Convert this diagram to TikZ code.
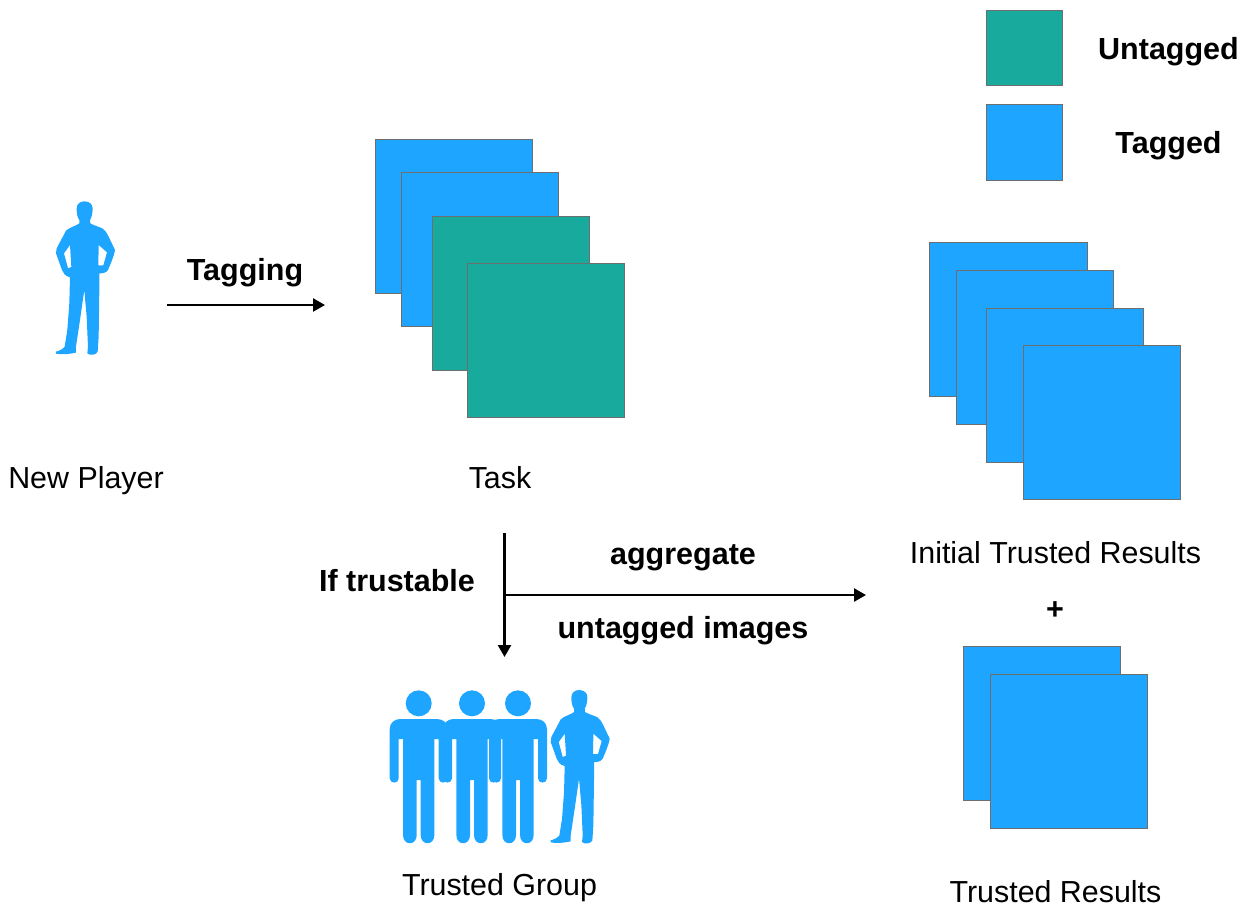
\documentclass[tikz,border=0pt]{standalone}
\usepackage{fontspec}
\setmainfont{Liberation Sans}
\usetikzlibrary{arrows.meta}
\definecolor{tagblue}{HTML}{1EA5FF}
\definecolor{teal}{HTML}{18AA9C}
\definecolor{edgegray}{HTML}{6E6E6E}
\tikzset{
  card/.style={draw=edgegray,line width=0.6pt,anchor=north west,inner sep=0pt,outer sep=0pt},
  lbl/.style={font=\fontsize{30.4}{36}\selectfont,inner sep=0pt,text=black,anchor=base},
  blbl/.style={font=\fontsize{30.5}{36}\selectfont\bfseries,inner sep=0pt,text=black,anchor=base},
  flow/.style={line width=2.4pt,-{Triangle[length=12pt,width=13pt]}},
}
\newcommand{\card}[6]{% name, colour, x1,y1,x2,y2
  \pgfmathsetmacro{\cw}{#5-#3-0.8}\pgfmathsetmacro{\ch}{#6-#4-0.2}
  \node[card,fill=#2,minimum width=\cw pt,minimum height=\ch pt] (#1) at (#3,#4) {};}
% silhouette in local units (1 unit = 1/3 px), origin at crop corner
\newcommand{\silhouette}[2]{%
  \begin{scope}[shift={(#1,#2)},x=0.3333pt,y=-0.3333pt]
  \fill[tagblue,even odd rule]
    (163,34) .. controls (178,34) and (188,42) .. (188,56)
    .. controls (188,72) and (184,84) .. (180,90)
    -- (181,100) .. controls (192,106) and (205,110) .. (217,115)
    .. controls (225,120) and (230,128) .. (236,140)
    -- (255,180) .. controls (252,200) and (240,225) .. (234,240)
    .. controls (228,250) and (215,250) .. (208,250)
    -- (208,300) -- (206,440) -- (203,485)
    .. controls (200,495) and (178,498) .. (172,490)
    -- (174,470) -- (170,380) -- (163,300)
    -- (150,390) -- (138,470) -- (138,488)
    .. controls (120,492) and (95,495) .. (78,491)
    -- (78,485) .. controls (90,482) and (100,476) .. (104,470)
    -- (112,420) -- (118,340) -- (120,262)
    .. controls (105,258) and (100,250) .. (96,240)
    -- (78,190) -- (80,175) -- (108,122)
    .. controls (118,112) and (138,108) .. (148,100)
    -- (148,90) .. controls (142,82) and (140,70) .. (140,56)
    .. controls (140,42) and (150,34) .. (163,34) -- cycle
    (120,165) -- (102,190) -- (114,235) -- (124,231) -- cycle
    (206,165) -- (231,187) -- (220,226) -- (205,226) -- cycle;
  \end{scope}}
% stick man: local units 1/3 px, origin at centre x, crop y
\newcommand{\stickman}[1]{%
  \begin{scope}[shift={(#1,680)},x=0.3333pt,y=-0.3333pt]
  \fill[tagblue] (0,70) circle[radius=13pt];
  \fill[tagblue]
    (-87,147) .. controls (-87,128) and (-72,117) .. (-55,117) -- (55,117)
    .. controls (72,117) and (87,128) .. (87,147)
    -- (87,295) .. controls (87,312) and (60,312) .. (60,295) -- (60,177) -- (47,177)
    -- (47,465) .. controls (47,498) and (6,498) .. (6,465) -- (6,300) -- (-6,300)
    -- (-6,465) .. controls (-6,498) and (-47,498) .. (-47,465) -- (-47,177) -- (-60,177)
    -- (-60,295) .. controls (-60,312) and (-87,312) .. (-87,295) -- cycle;
  \end{scope}}
\begin{document}
\begin{tikzpicture}[x=1pt,y=-1pt]
\useasboundingbox (0,0) rectangle (1246,908);
\silhouette{30}{190}
\card{t1}{tagblue}{375}{139}{533}{293}
\card{t2}{tagblue}{401}{172}{559}{326}
\card{t3}{teal}{432}{216}{590}{370}
\card{t4}{teal}{467}{263}{625}{417}
\card{r1}{tagblue}{929}{242}{1088}{396}
\card{r2}{tagblue}{956}{270}{1114}{424}
\card{r3}{tagblue}{986}{308}{1144}{462}
\card{r4}{tagblue}{1023}{345}{1181}{499}
\card{b1}{tagblue}{963}{646}{1121}{800}
\card{b2}{tagblue}{990}{674}{1148}{828}
\card{lu}{teal}{986}{10}{1063}{85}
\card{lt}{tagblue}{986}{104}{1063}{180}
\stickman{418.7}
\stickman{472}
\stickman{518}
\silhouette{524.7}{678.7}
\node[blbl] (untagged) at (1168.5,59) {Untagged};
\node[blbl] (tagged) at (1168.5,153) {Tagged};
\node[blbl] (tagging) at (245,280) {Tagging};
\node[lbl] (newplayer) at (86,488) {New Player};
\node[lbl] (task) at (500,488) {Task};
\node[lbl] (initial) at (1055.5,563) {Initial Trusted Results};
\node[blbl] (plus) at (1055,619) {+};
\node[blbl] (aggregate) at (683,564) {aggregate};
\node[blbl] (images) at (683,638) {untagged images};
\node[blbl] (iftrust) at (397,591) {If trustable};
\node[lbl] (group) at (499.5,895) {Trusted Group};
\node[lbl] (results) at (1055.5,902) {Trusted Results};
\coordinate (a1) at (167,305);
\coordinate (a2) at (325,305);
\coordinate (v1) at (504.5,533);
\coordinate (v2) at (504.5,657);
\coordinate (h1) at (504.5,595);
\coordinate (h2) at (866,595);
\draw[flow] (a1) -- (a2);
\draw[flow] (v1) -- (v2);
\draw[flow] (h1) -- (h2);
\end{tikzpicture}
\end{document}
